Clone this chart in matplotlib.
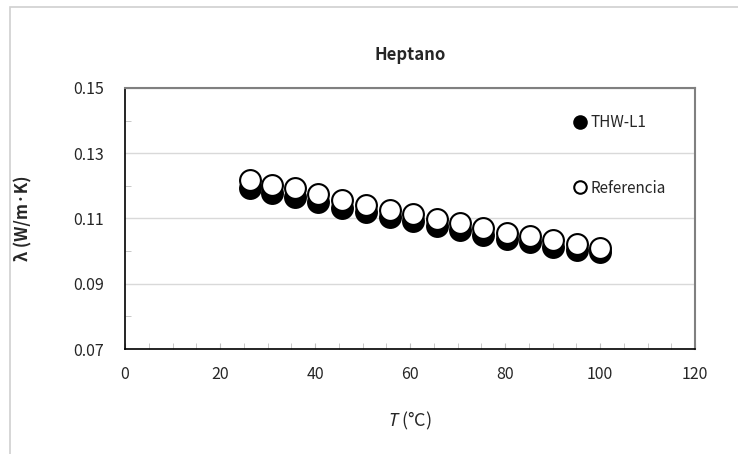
import matplotlib
matplotlib.use("Agg")
import matplotlib.pyplot as plt
from matplotlib.patches import Rectangle

plt.rcParams["font.family"] = ["Noto Sans CJK KR", "DejaVu Sans"]
plt.rcParams["mathtext.fontset"] = "custom"
plt.rcParams["mathtext.it"] = "Noto Sans:italic"
plt.rcParams["mathtext.rm"] = "Noto Sans CJK KR"

# temperature (°C) and thermal conductivity (W/m·K)
temp = [26.3, 30.9, 35.8, 40.6, 45.7, 50.7, 55.8, 60.6,
        65.7, 70.5, 75.4, 80.4, 85.3, 90.1, 95.2, 100.0]
thw_l1 = [0.1193, 0.1178, 0.1166, 0.1150, 0.1133, 0.1120, 0.1105, 0.1093,
          0.1078, 0.1065, 0.1050, 0.1037, 0.1027, 0.1014, 0.1003, 0.0996]
referencia = [0.1218, 0.1203, 0.1193, 0.1175, 0.1157, 0.1141, 0.1126, 0.1114,
              0.1098, 0.1086, 0.1071, 0.1056, 0.1046, 0.1034, 0.1022, 0.1010]

x_ticks = [0, 20, 40, 60, 80, 100, 120]
x_minor = [5 * i for i in range(25)]
y_ticks = [0.07, 0.09, 0.11, 0.13, 0.15]
y_minor = [0.08, 0.10, 0.12, 0.14]

fig = plt.figure(figsize=(7.38, 4.54), dpi=100)
ax = fig.add_axes((125 / 738, 1 - 349 / 454, 570 / 738, 261 / 454))

# chart area outline (only top and left edges fall inside the image)
fig.patches.append(Rectangle((10 / 738, -0.1), 2, 1.1 - 7 / 454,
                             transform=fig.transFigure, fill=False,
                             edgecolor="#d0d0d0", linewidth=1.2))

ax.plot(temp, thw_l1, "o", ms=15, mfc="black", mec="black", mew=1.5,
        label="THW-L1", zorder=3)
ax.plot(temp, referencia, "o", ms=15, mfc="white", mec="black", mew=1.5,
        label="Referencia", zorder=4)

ax.set_xlim(0, 120)
ax.set_ylim(0.07, 0.15)
ax.set_xticks(x_ticks)
ax.set_xticks(x_minor, minor=True)
ax.set_yticks(y_ticks)
ax.set_yticks(y_minor, minor=True)
ax.set_yticklabels([f"{v:.2f}" for v in y_ticks])
ax.grid(axis="y", which="major", color="#d9d9d9", linewidth=1)
ax.set_axisbelow(True)

ax.tick_params(axis="x", which="both", direction="in", length=4,
               color="#bfbfbf", pad=12, labelsize=11.5, labelcolor="#262626")
ax.tick_params(axis="y", which="major", length=0, pad=15,
               labelsize=11.5, labelcolor="#262626")
ax.tick_params(axis="y", which="minor", direction="in", length=4,
               color="#bfbfbf")

for side in ("left", "bottom"):
    ax.spines[side].set_color("black")
    ax.spines[side].set_linewidth(1.2)
for side in ("top", "right"):
    ax.spines[side].set_color("#808080")
    ax.spines[side].set_linewidth(1.5)

fig.text(410 / 738, 1 - 55 / 454, "Heptano", ha="center", va="center",
         fontsize=12, fontweight="bold", color="#262626")
ax.set_ylabel("λ (W/m·K)", fontsize=12, fontweight="bold", color="#262626")
ax.yaxis.set_label_coords(-0.163, 0.5)
ax.set_xlabel(r"$\mathit{T}$ (°C)", fontsize=13, color="#262626")
ax.xaxis.set_label_coords(0.5, -0.235)

ax.legend(loc="upper left", bbox_to_anchor=(0.774, 0.93), frameon=False,
          markerscale=0.6, handlelength=0.8, handletextpad=0.3,
          labelspacing=3.2, borderpad=0, fontsize=11,
          labelcolor="#262626")

fig.savefig("out.png", dpi=100, facecolor="white")
